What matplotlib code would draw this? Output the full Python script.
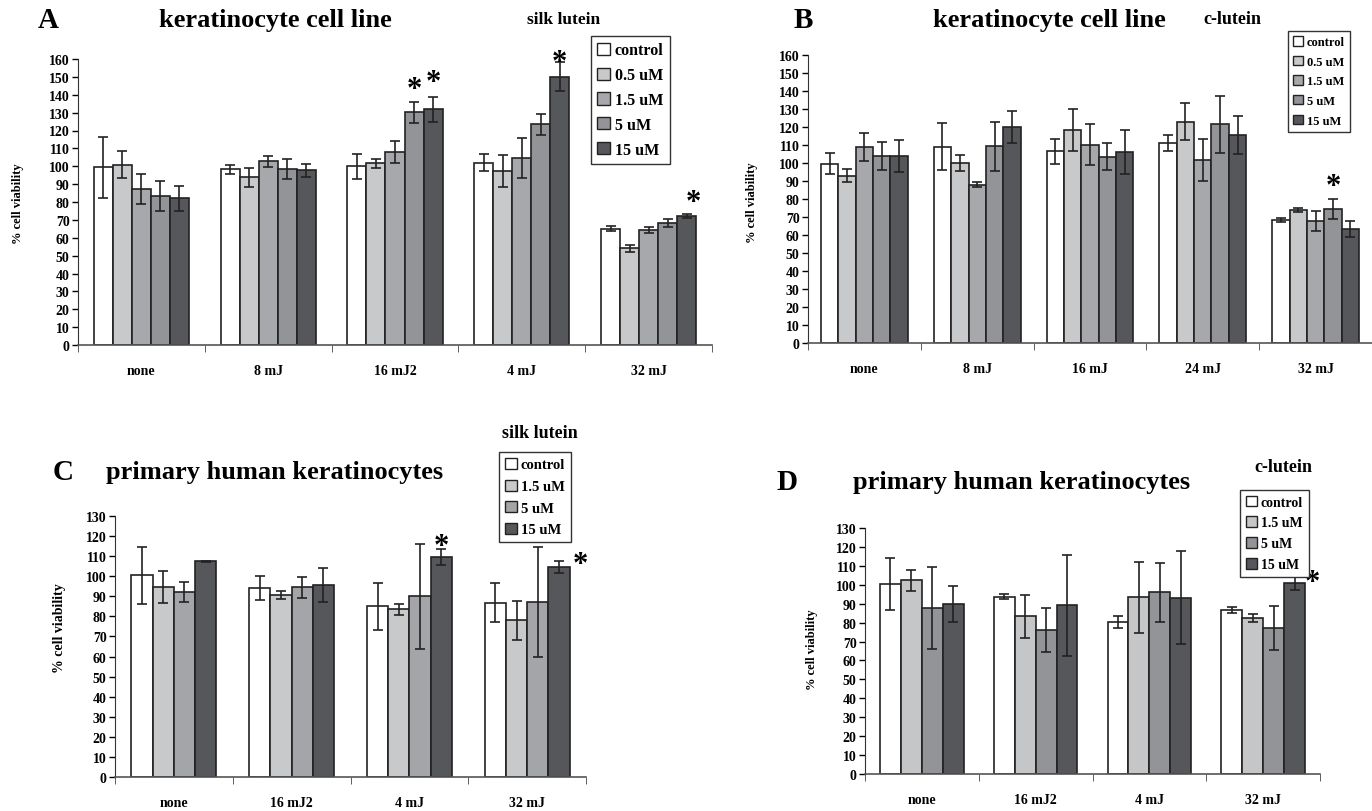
import numpy as np
import matplotlib
matplotlib.use("Agg")
import matplotlib.pyplot as plt
from matplotlib.patches import Patch

plt.rcParams['font.family'] = ['Liberation Serif', 'DejaVu Serif']
plt.rcParams['font.weight'] = 'bold'

# ---- panel A : keratinocyte cell line, silk lutein ----
a_groups = ['none', '8 mJ', '16 mJ2', '4 mJ', '32 mJ']
a_series = ['control', '0.5 uM', '1.5 uM', '5 uM', '15 uM']
a_vals = [
    [99.5, 98.3, 100.1, 102.0, 65.0],
    [100.9, 93.8, 101.6, 97.5, 54.1],
    [87.3, 102.7, 107.8, 104.6, 64.3],
    [83.5, 98.3, 130.2, 123.5, 68.4],
    [82.2, 97.7, 132.0, 150.1, 72.3],
]
a_errs = [
    [17.0, 2.5, 7.0, 4.6, 1.4],
    [7.5, 5.5, 2.7, 9.0, 2.0],
    [8.5, 3.0, 6.2, 11.0, 1.5],
    [8.5, 5.5, 6.0, 6.0, 2.2],
    [7.0, 3.5, 7.0, 8.0, 1.0],
]

# ---- panel B : keratinocyte cell line, c-lutein ----
b_groups = ['none', '8 mJ', '16 mJ', '24 mJ', '32 mJ']
b_series = ['control', '0.5 uM', '1.5 uM', '5 uM', '15 uM']
b_vals = [
    [99.7, 109.1, 106.4, 111.0, 68.4],
    [93.0, 99.9, 118.4, 123.0, 73.8],
    [108.8, 88.0, 110.1, 101.6, 67.9],
    [103.8, 109.3, 103.6, 121.5, 74.5],
    [103.8, 120.0, 106.0, 115.6, 63.4],
]
b_errs = [
    [6.0, 13.0, 7.0, 4.5, 1.0],
    [3.7, 4.3, 11.5, 10.2, 1.2],
    [7.6, 1.6, 11.4, 11.6, 5.5],
    [7.7, 13.7, 7.7, 15.7, 5.7],
    [9.0, 8.7, 12.2, 10.5, 4.5],
]

# ---- panel C : primary human keratinocytes, silk lutein ----
c_groups = ['none', '16 mJ2', '4 mJ', '32 mJ']
c_series = ['control', '1.5 uM', '5 uM', '15 uM']
c_vals = [
    [100.4, 94.0, 85.0, 86.7],
    [94.5, 90.5, 83.5, 78.0],
    [92.1, 94.5, 90.0, 87.2],
    [107.4, 95.6, 109.4, 104.6],
]
c_errs = [
    [14.0, 6.0, 11.7, 9.7],
    [8.0, 2.0, 2.8, 9.6],
    [5.0, 5.3, 26.0, 27.5],
    [0.3, 8.6, 4.0, 3.1],
]

# ---- panel D : primary human keratinocytes, c-lutein ----
d_groups = ['none', '16 mJ2', '4 mJ', '32 mJ']
d_series = ['control', '1.5 uM', '5 uM', '15 uM']
d_vals = [
    [100.4, 93.8, 80.3, 86.6],
    [102.3, 83.3, 93.3, 82.4],
    [87.7, 75.9, 96.0, 77.1],
    [89.6, 89.1, 93.1, 100.9],
]
d_errs = [
    [13.9, 1.3, 3.0, 1.6],
    [5.6, 11.4, 18.6, 2.2],
    [21.6, 11.6, 15.6, 11.5],
    [9.5, 26.5, 24.5, 3.7],
]

col5 = ['#ffffff', '#c8c9cb', '#a7a8ab', '#939497', '#55575a']
col4_c = ['#ffffff', '#c8c9cb', '#a4a5a8', '#55575a']
col4_d = ['#ffffff', '#c5c6c8', '#939497', '#55575a']

W, H = 1372, 812
fig = plt.figure(figsize=(W / 100, H / 100), dpi=100)


def px_axes(x0, y0, x1, y1):
    return fig.add_axes([x0 / W, 1 - y1 / H, (x1 - x0) / W, (y1 - y0) / H])


def draw_panel(ax, groups, vals, errs, colors, width, ymax):
    n = len(groups)
    k = len(vals)
    x = np.arange(n)
    for i in range(k):
        off = (i - (k - 1) / 2) * width
        ax.bar(x + off, vals[i], width, color=colors[i], edgecolor='#222222',
               linewidth=1.2, zorder=2)
        ax.errorbar(x + off, vals[i], yerr=errs[i], fmt='none', ecolor='#222222',
                    elinewidth=1.2, capsize=3.6, capthick=1.2, zorder=3)
    ax.set_xlim(-0.5, n - 0.5)
    ax.set_ylim(0, ymax)
    ax.set_yticks(np.arange(0, ymax + 1, 10))
    ax.set_xticks(x)
    ax.set_xticklabels(groups, fontsize=10, fontweight='bold')
    ax.set_xticks(np.arange(n + 1) - 0.5, minor=True)
    ax.tick_params(axis='x', which='major', length=0, pad=14)
    ax.tick_params(axis='x', which='minor', length=5, direction='out', color='#444444')
    ax.tick_params(axis='y', length=4, width=1, labelsize=10, pad=2)
    for lab in ax.get_yticklabels():
        lab.set_fontweight('bold')
    ax.spines['top'].set_visible(False)
    ax.spines['right'].set_visible(False)
    ax.spines['left'].set_color('#333333')
    ax.spines['bottom'].set_color('#555555')
    ax.spines['bottom'].set_linewidth(1.2)


def add_legend(ax, names, colors, xy, size, gap):
    handles = [Patch(facecolor=c, edgecolor='#222222', linewidth=1.0) for c in colors]
    leg = ax.legend(handles, names, loc='upper left', bbox_to_anchor=(xy[0] / W, 1 - xy[1] / H),
                    bbox_transform=fig.transFigure, borderaxespad=0, fancybox=False,
                    framealpha=1, edgecolor='#333333', handlelength=0.8, handleheight=0.8,
                    handletextpad=0.3, labelspacing=gap, borderpad=0.4,
                    prop={'family': 'Liberation Serif', 'weight': 'bold', 'size': size})
    leg.get_frame().set_linewidth(1.0)


def star(ax, x, y):
    ax.text(x, y, '*', fontsize=22, ha='center', va='center', fontweight='bold', zorder=4)


# panel A
axA = px_axes(78, 60, 712, 346)
draw_panel(axA, a_groups, a_vals, a_errs, col5, 0.15, 160)
add_legend(axA, a_series, col5, (591, 37), 11.5, 0.55)
star(axA, 2 + 0.15, 143)
star(axA, 2 + 0.30, 147)
star(axA, 3 + 0.30, 158)
star(axA, 4 + 0.35, 80)

# panel B
axB = px_axes(808, 56, 1372, 344)
draw_panel(axB, b_groups, b_vals, b_errs, col5, 0.154, 160)
add_legend(axB, b_series, col5, (1288, 32), 9, 0.6)
star(axB, 4 + 0.154, 87)

# panel C
axC = px_axes(115, 517, 586, 778)
draw_panel(axC, c_groups, c_vals, c_errs, col4_c, 0.18, 130)
add_legend(axC, c_series, col4_c, (499, 453), 10.5, 0.55)
star(axC, 2 + 0.27, 115)
star(axC, 3 + 0.45, 106)

# panel D
axD = px_axes(865, 529, 1320, 775)
draw_panel(axD, d_groups, d_vals, d_errs, col4_d, 0.184, 130)
add_legend(axD, d_series, col4_d, (1240, 491), 10, 0.55)
star(axD, 3 + 0.43, 101)

# titles and labels


def ftxt(x, y, s, size, **kw):
    fig.text(x / W, 1 - y / H, s, fontsize=size, fontweight='bold', ha='center',
             va='center', **kw)


ftxt(48, 20, 'A', 21)
ftxt(275, 20, 'keratinocyte cell line', 19)
ftxt(564, 20, 'silk lutein', 12.5)
ftxt(803, 20, 'B', 21)
ftxt(1049, 20, 'keratinocyte cell line', 19)
ftxt(1232, 20, 'c-lutein', 13)
ftxt(540, 433, 'silk lutein', 13)
ftxt(63, 473, 'C', 21)
ftxt(275, 473, 'primary human keratinocytes', 19)
ftxt(787, 483, 'D', 21)
ftxt(1022, 483, 'primary human keratinocytes', 19)
ftxt(1283, 467, 'c-lutein', 13)

ftxt(18, 204, '% cell viability', 9, rotation=90)
ftxt(752, 203, '% cell viability', 9, rotation=90)
ftxt(60, 628, '% cell viability', 10, rotation=90)
ftxt(812, 650, '% cell viability', 9, rotation=90)

fig.savefig('out.png', dpi=100, facecolor='white')
